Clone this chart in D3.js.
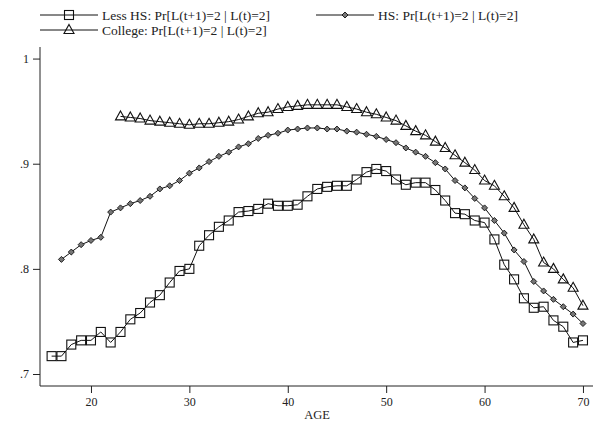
<!DOCTYPE html>
<meta charset="utf-8">
<style>
body { margin: 0; background: #fff; }
text { font-family: "Liberation Serif", "DejaVu Serif", serif; fill: #222; }
.axis text { font-size: 12px; }
.axis path, .axis line { stroke: #222; }
.legend text { font-size: 13.5px; }
</style>
<svg width="608" height="424" id="chart"></svg>
<script src="https://cdnjs.cloudflare.com/ajax/libs/d3/7.8.5/d3.min.js"></script>
<script>

var svg = d3.select("svg"),
    width = +svg.attr("width"),
    height = +svg.attr("height");

// ages for each series
var agesLess = d3.range(16, 71);
var agesHS = d3.range(17, 71);
var agesCol = d3.range(23, 71);

// Less HS, ages 16..70
var lessHS = [.717, .717, .728, .732, .732, .740, .730, .740, .752, .758,
  .768, .775, .787, .798, .800, .822, .832, .840, .846, .854,
  .855, .857, .862, .860, .860, .861, .869, .876, .878, .879,
  .879, .885, .892, .895, .893, .885, .880, .882, .882, .875,
  .865, .853, .852, .846, .844, .828, .804, .790, .772, .763,
  .764, .751, .745, .730, .732];

// HS, ages 17..70
var hs = [.809, .816, .823, .827, .830, .854, .858, .862, .865, .869,
  .876, .879, .884, .891, .896, .902, .907, .911, .916, .919,
  .924, .927, .929, .932, .933, .934, .934, .933, .933, .931,
  .930, .928, .926, .923, .920, .915, .911, .907, .901, .895,
  .884, .877, .867, .858, .846, .834, .818, .807, .788, .779,
  .771, .764, .757, .748];

// College, ages 23..70
var college = [.945, .944, .943, .941, .940, .939, .938, .937, .938, .938,
  .939, .940, .942, .945, .948, .949, .952, .954, .955, .956,
  .956, .956, .956, .954, .952, .949, .947, .944, .941, .936,
  .931, .927, .921, .915, .908, .901, .894, .884, .879, .869,
  .858, .842, .828, .806, .800, .790, .782, .765];

var xTicks = [20, 30, 40, 50, 60, 70];
var yTicks = [.7, .8, .9, 1];
var yLabels = [".7", ".8", ".9", "1"];

var labels = [
  "Less HS: Pr[L(t+1)=2 | L(t)=2]",
  "HS: Pr[L(t+1)=2 | L(t)=2]",
  "College: Pr[L(t+1)=2 | L(t)=2]"
];

var x = d3.scaleLinear().domain([14.82, 71.02]).range([40, 593]);
var y = d3.scaleLinear().domain([0.6886, 1.011]).range([386, 47]);

// axes
svg.append("g")
    .attr("class", "axis")
    .attr("transform", "translate(0,386)")
    .call(d3.axisBottom(x).tickValues(xTicks).tickSize(7).tickSizeOuter(0).tickPadding(4))
    .call(function(g) { g.select(".domain").attr("d", "M40,0H593"); });

svg.append("g")
    .attr("class", "axis")
    .attr("transform", "translate(40,0)")
    .call(d3.axisLeft(y).tickValues(yTicks).tickSize(7).tickSizeOuter(0).tickPadding(4)
      .tickFormat(function(d, i) { return yLabels[i]; }))
    .call(function(g) { g.select(".domain").attr("d", "M0,47V386"); });

svg.append("text")
    .attr("x", 317).attr("y", 419)
    .attr("text-anchor", "middle")
    .style("font-size", "12.5px")
    .text("AGE");

var line = d3.line()
    .x(function(d) { return x(d[0]); })
    .y(function(d) { return y(d[1]); });

function zipped(ages, vals) {
  return ages.map(function(a, i) { return [a, vals[i]]; });
}

var series = [
  { data: zipped(agesLess, lessHS), marker: "square" },
  { data: zipped(agesHS, hs), marker: "diamond" },
  { data: zipped(agesCol, college), marker: "triangle" }
];

function drawMarker(g, type, cx, cy) {
  if (type == "square") {
    g.append("rect")
      .attr("x", cx - 4.5).attr("y", cy - 4.5)
      .attr("width", 9).attr("height", 9)
      .attr("fill", "none").attr("stroke", "#111").attr("stroke-width", 1.1);
  } else if (type == "diamond") {
    g.append("path")
      .attr("d", "M" + cx + "," + (cy - 3) + "L" + (cx + 3) + "," + cy + "L" + cx + "," + (cy + 3) + "L" + (cx - 3) + "," + cy + "Z")
      .attr("fill", "#777").attr("stroke", "#111").attr("stroke-width", 0.9);
  } else {
    g.append("path")
      .attr("d", "M" + cx + "," + (cy - 5.5) + "L" + (cx + 5) + "," + (cy + 3.5) + "L" + (cx - 5) + "," + (cy + 3.5) + "Z")
      .attr("fill", "none").attr("stroke", "#111").attr("stroke-width", 1.1);
  }
}

series.forEach(function(s) {
  var g = svg.append("g");
  g.append("path")
    .datum(s.data)
    .attr("d", line)
    .attr("fill", "none")
    .attr("stroke", "#111")
    .attr("stroke-width", 1);
  s.data.forEach(function(d) {
    drawMarker(g, s.marker, x(d[0]), y(d[1]));
  });
});

// legend
var legendPos = [[40, 15], [316, 15], [40, 30]];
var leg = svg.append("g").attr("class", "legend");
series.forEach(function(s, i) {
  var lx = legendPos[i][0], ly = legendPos[i][1];
  leg.append("line")
    .attr("x1", lx).attr("x2", lx + 58)
    .attr("y1", ly).attr("y2", ly)
    .attr("stroke", "#111").attr("stroke-width", 1);
  drawMarker(leg, s.marker, lx + 29, ly);
  leg.append("text")
    .attr("x", lx + 62).attr("y", ly + 4.5)
    .text(labels[i]);
});

</script>
